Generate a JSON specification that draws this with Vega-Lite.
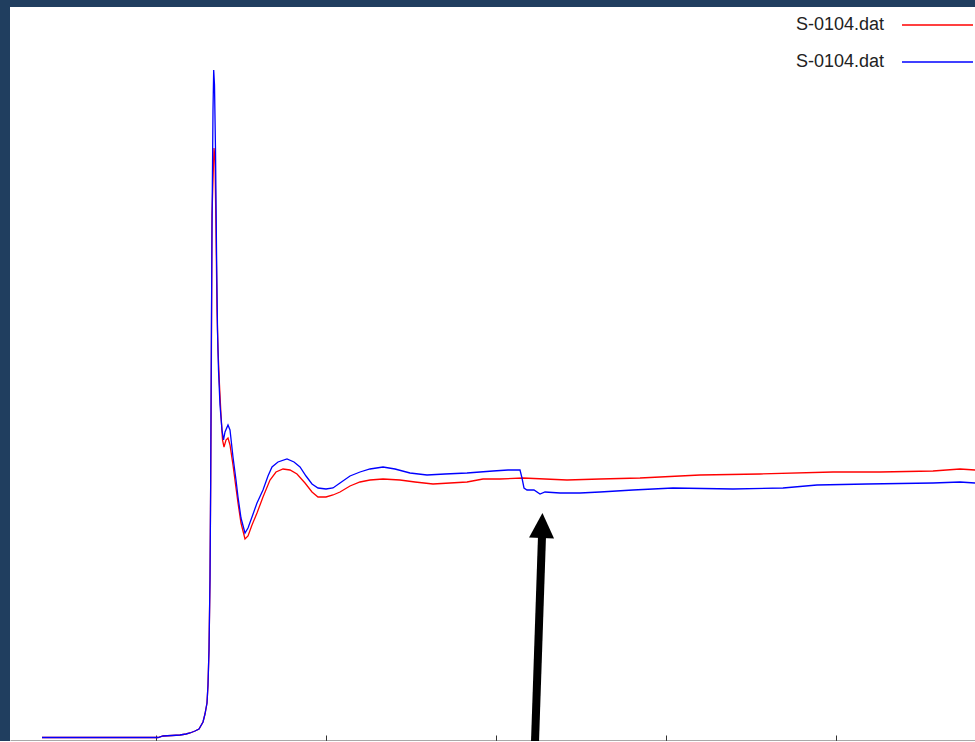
{
  "$schema": "https://vega.github.io/schema/vega-lite/v6.json",
  "width": 965,
  "height": 734,
  "autosize": {"type": "none"},
  "padding": {"left": 10, "top": 7, "right": 0, "bottom": 0},
  "background": "#203e5f",
  "config": {"view": {"fill": "white", "stroke": null}},
  "datasets": {
    "curves": [
        {"s":"A","x":0.3294,"y":0.035},{"s":"A","x":1.0118,"y":0.035},{"s":"A","x":1.0412,"y":0.05},{"s":"A","x":1.0941,"y":0.055},{"s":"A","x":1.1412,"y":0.06},{"s":"A","x":1.1765,"y":0.07},{"s":"A","x":1.2,"y":0.08},{"s":"A","x":1.2294,"y":0.1},{"s":"A","x":1.2529,"y":0.12},{"s":"A","x":1.2765,"y":0.19},{"s":"A","x":1.2882,"y":0.27},{"s":"A","x":1.3,"y":0.38},{"s":"A","x":1.3059,"y":0.56},{"s":"A","x":1.3118,"y":0.91},{"s":"A","x":1.3176,"y":1.61},{"s":"A","x":1.3218,"y":2.61},{"s":"A","x":1.3253,"y":3.61},{"s":"A","x":1.3294,"y":5.26},{"s":"A","x":1.3353,"y":5.61},{"s":"A","x":1.3412,"y":5.93},{"s":"A","x":1.3471,"y":5.81},{"s":"A","x":1.3529,"y":5.11},{"s":"A","x":1.3588,"y":4.31},{"s":"A","x":1.3647,"y":3.91},{"s":"A","x":1.3735,"y":3.56},{"s":"A","x":1.3824,"y":3.26},{"s":"A","x":1.3912,"y":3.01},{"s":"A","x":1.4,"y":2.94},{"s":"A","x":1.4118,"y":3.01},{"s":"A","x":1.4235,"y":3.03},{"s":"A","x":1.4353,"y":2.96},{"s":"A","x":1.4529,"y":2.76},{"s":"A","x":1.4706,"y":2.53},{"s":"A","x":1.4824,"y":2.38},{"s":"A","x":1.5,"y":2.18},{"s":"A","x":1.5235,"y":2.02},{"s":"A","x":1.5412,"y":2.05},{"s":"A","x":1.5647,"y":2.16},{"s":"A","x":1.5941,"y":2.28},{"s":"A","x":1.6294,"y":2.44},{"s":"A","x":1.6706,"y":2.61},{"s":"A","x":1.7059,"y":2.69},{"s":"A","x":1.7471,"y":2.72},{"s":"A","x":1.7882,"y":2.71},{"s":"A","x":1.8294,"y":2.67},{"s":"A","x":1.8765,"y":2.58},{"s":"A","x":1.9176,"y":2.49},{"s":"A","x":1.9529,"y":2.44},{"s":"A","x":2.0,"y":2.44},{"s":"A","x":2.0412,"y":2.46},{"s":"A","x":2.0824,"y":2.49},{"s":"A","x":2.1412,"y":2.55},{"s":"A","x":2.2,"y":2.59},{"s":"A","x":2.2588,"y":2.61},{"s":"A","x":2.3353,"y":2.62},{"s":"A","x":2.4353,"y":2.61},{"s":"A","x":2.5235,"y":2.59},{"s":"A","x":2.6294,"y":2.57},{"s":"A","x":2.7294,"y":2.58},{"s":"A","x":2.8294,"y":2.59},{"s":"A","x":2.9235,"y":2.62},{"s":"A","x":3.0235,"y":2.62},{"s":"A","x":3.1588,"y":2.63},{"s":"A","x":3.2882,"y":2.62},{"s":"A","x":3.4176,"y":2.61},{"s":"A","x":3.6118,"y":2.62},{"s":"A","x":3.8471,"y":2.63},{"s":"A","x":4.2,"y":2.66},{"s":"A","x":4.5529,"y":2.67},{"s":"A","x":4.9824,"y":2.69},{"s":"A","x":5.2588,"y":2.69},{"s":"A","x":5.5706,"y":2.7},{"s":"A","x":5.7294,"y":2.72},{"s":"A","x":5.8176,"y":2.71},
        {"s":"B","x":0.3294,"y":0.035},{"s":"B","x":1.0118,"y":0.035},{"s":"B","x":1.0412,"y":0.05},{"s":"B","x":1.0941,"y":0.055},{"s":"B","x":1.1412,"y":0.06},{"s":"B","x":1.1765,"y":0.07},{"s":"B","x":1.2,"y":0.08},{"s":"B","x":1.2294,"y":0.1},{"s":"B","x":1.2529,"y":0.12},{"s":"B","x":1.2765,"y":0.19},{"s":"B","x":1.2882,"y":0.27},{"s":"B","x":1.3,"y":0.38},{"s":"B","x":1.3059,"y":0.56},{"s":"B","x":1.3118,"y":0.91},{"s":"B","x":1.3176,"y":1.61},{"s":"B","x":1.3218,"y":2.61},{"s":"B","x":1.3253,"y":3.91},{"s":"B","x":1.3294,"y":5.11},{"s":"B","x":1.3353,"y":6.31},{"s":"B","x":1.3394,"y":6.71},{"s":"B","x":1.3441,"y":6.56},{"s":"B","x":1.35,"y":5.91},{"s":"B","x":1.3559,"y":4.91},{"s":"B","x":1.3618,"y":4.11},{"s":"B","x":1.3676,"y":3.71},{"s":"B","x":1.3765,"y":3.36},{"s":"B","x":1.3882,"y":3.11},{"s":"B","x":1.3971,"y":3.01},{"s":"B","x":1.4059,"y":3.09},{"s":"B","x":1.4235,"y":3.16},{"s":"B","x":1.4353,"y":3.11},{"s":"B","x":1.4529,"y":2.84},{"s":"B","x":1.4706,"y":2.61},{"s":"B","x":1.4824,"y":2.44},{"s":"B","x":1.5,"y":2.23},{"s":"B","x":1.5235,"y":2.08},{"s":"B","x":1.5412,"y":2.13},{"s":"B","x":1.5647,"y":2.24},{"s":"B","x":1.5941,"y":2.38},{"s":"B","x":1.6294,"y":2.51},{"s":"B","x":1.6588,"y":2.65},{"s":"B","x":1.6824,"y":2.74},{"s":"B","x":1.7176,"y":2.79},{"s":"B","x":1.7706,"y":2.82},{"s":"B","x":1.8118,"y":2.79},{"s":"B","x":1.8471,"y":2.74},{"s":"B","x":1.8824,"y":2.65},{"s":"B","x":1.9176,"y":2.57},{"s":"B","x":1.9529,"y":2.53},{"s":"B","x":2.0,"y":2.52},{"s":"B","x":2.0412,"y":2.53},{"s":"B","x":2.0824,"y":2.58},{"s":"B","x":2.1412,"y":2.65},{"s":"B","x":2.2,"y":2.69},{"s":"B","x":2.2588,"y":2.72},{"s":"B","x":2.3353,"y":2.74},{"s":"B","x":2.4059,"y":2.72},{"s":"B","x":2.4941,"y":2.68},{"s":"B","x":2.5941,"y":2.66},{"s":"B","x":2.7,"y":2.67},{"s":"B","x":2.8294,"y":2.68},{"s":"B","x":2.9059,"y":2.69},{"s":"B","x":2.9824,"y":2.7},{"s":"B","x":3.0706,"y":2.71},{"s":"B","x":3.1412,"y":2.71},{"s":"B","x":3.1529,"y":2.63},{"s":"B","x":3.1647,"y":2.53},{"s":"B","x":3.1824,"y":2.51},{"s":"B","x":3.2235,"y":2.51},{"s":"B","x":3.2588,"y":2.47},{"s":"B","x":3.2882,"y":2.49},{"s":"B","x":3.3765,"y":2.48},{"s":"B","x":3.4941,"y":2.48},{"s":"B","x":3.6118,"y":2.49},{"s":"B","x":3.8059,"y":2.51},{"s":"B","x":4.0412,"y":2.53},{"s":"B","x":4.3941,"y":2.52},{"s":"B","x":4.6882,"y":2.53},{"s":"B","x":4.8882,"y":2.56},{"s":"B","x":5.1824,"y":2.57},{"s":"B","x":5.5706,"y":2.58},{"s":"B","x":5.7294,"y":2.59},{"s":"B","x":5.8176,"y":2.58}
    ]
  },
  "encoding": {
    "x": {"field": "x", "type": "quantitative", "scale": {"domain": [0.1412, 5.8176], "nice": false, "zero": false},
      "axis": {"values": [1, 2, 3, 4, 5], "labels": false, "title": null, "grid": false, "tickSize": -6, "tickColor": "#333", "tickWidth": 1, "domainColor": "#555", "domainWidth": 2}},
    "y": {"field": "y", "type": "quantitative", "scale": {"domain": [0, 7.34], "nice": false, "zero": false}, "axis": null}
  },
  "layer": [
    {
      "data": {"name": "curves"},
      "transform": [{"filter": "datum.s === 'A'"}],
      "mark": {"type": "line", "strokeWidth": 1.3},
      "encoding": {
        "color": {"field": "s", "type": "nominal", "scale": {"domain": ["A", "B"], "range": ["#ff0000", "#0000ff"]},
          "legend": {"orient": "none", "legendX": 917.5, "legendY": 8, "title": null, "symbolType": "M-4,0H4", "symbolSize": 315, "symbolStrokeWidth": 1.3, "symbolFillColor": "transparent", "labelFont": "Liberation Sans", "labelFontSize": 18, "labelColor": "#222", "labelAlign": "right", "labelOffset": -63.5, "rowPadding": 18, "labelExpr": "'S-0104.dat'", "padding": 0}}
      }
    },
    {
      "data": {"name": "curves"},
      "transform": [{"filter": "datum.s === 'B'"}],
      "mark": {"type": "line", "strokeWidth": 1.3},
      "encoding": {
        "color": {"field": "s", "type": "nominal"}
      }
    },
    {
      "data": {"values": [{"x": 3.2294, "y": -0.01, "x2": 3.2706, "y2": 2.05}]},
      "mark": {"type": "rule", "strokeWidth": 8, "color": "black", "strokeCap": "butt"},
      "encoding": {
        "x2": {"field": "x2"},
        "y2": {"field": "y2"}
      }
    },
    {
      "data": {"values": [{"x": 3.2706, "y": 2.155}]},
      "mark": {"type": "point", "shape": "M0,-1L-1,1L1,1Z", "size": 625, "filled": true, "color": "black", "opacity": 1, "angle": 2},
      "encoding": {}
    }
  ]
}
